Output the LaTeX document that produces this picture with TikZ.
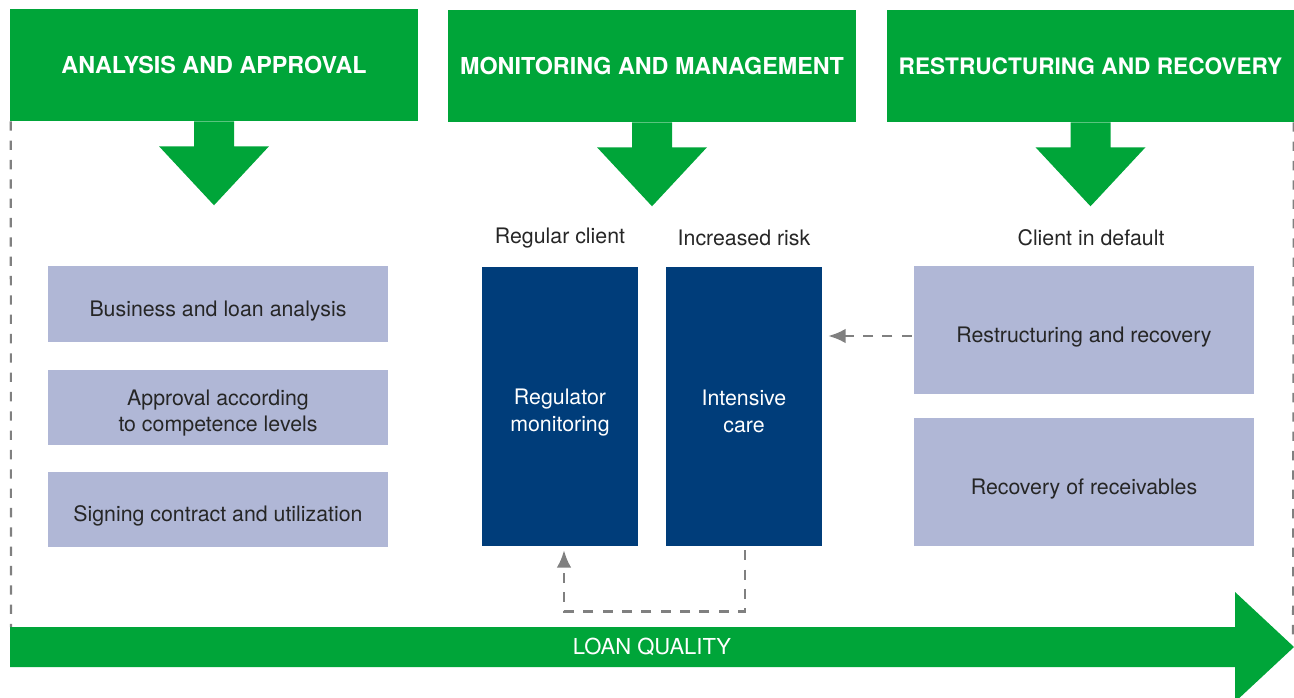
\documentclass[tikz,border=0pt]{standalone}
\usepackage{fontspec}
\setmainfont{TeX Gyre Heros}
\usetikzlibrary{arrows.meta,positioning,calc}
\definecolor{kgreen}{RGB}{0,165,57}
\definecolor{kblue}{RGB}{0,61,122}
\definecolor{klight}{RGB}{176,183,214}
\definecolor{kgray}{RGB}{128,128,128}
\begin{document}
\begin{tikzpicture}[x=0.75pt,y=-0.75pt,font=\fontsize{16}{20}\selectfont,
  head/.style={fill=kgreen,text=white,inner sep=0pt,minimum width=306pt,
               minimum height=84pt,font=\fontsize{17.5}{20}\selectfont\bfseries},
  stepbox/.style={fill=klight,text=black!85,align=center,inner sep=0pt,
                  minimum width=255pt,text height=21.5pt},
  twoline/.style={text height=40.5pt},
  care/.style={fill=kblue,text=white,align=center,inner sep=0pt,twoline,
               minimum width=117pt,minimum height=209.25pt},
  tag/.style={text=black!85},
  back/.style={-{Latex[length=13pt,width=11pt]},kgray,line width=2pt,
               dash pattern=on 7.5pt off 7pt},
  edge/.style={kgray,line width=1.6pt,dash pattern=on 7pt off 7.5pt}]
\useasboundingbox (0,0) rectangle (1294,698);
% ---------------- phases
\node[head] (h1) at (214,65) {ANALYSIS AND APPROVAL};
\node[head] (h2) at (652,66) {MONITORING AND MANAGEMENT};
\node[head,font=\fontsize{17}{20}\selectfont\bfseries] (h3) at (1090.5,66) {RESTRUCTURING AND RECOVERY};
\foreach \h in {h1,h2,h3}
  \fill[kgreen] (\h.south) ++(-20,0) -- ++(0,25) -- ++(-35,0) -- ++(55,59)
    -- ++(55,-59) -- ++(-35,0) -- ++(0,-25) -- cycle;
% ---------------- frame and loan quality
\draw[edge] (h1.south west) ++(1,0) -- (11,627);
\draw[edge] (h3.south east) ++(-1,0) -- (1293,640);
\fill[kgreen] (10,627) -- (1235,627) -- (1235,592) -- (1294,647)
  -- (1235,702) -- (1235,667) -- (10,667) -- cycle;
\node[text=white,font=\fontsize{16.5}{20}\selectfont] (lq) at (652,647) {LOAN QUALITY};
% ---------------- analysis and approval
\node[stepbox,minimum height=56.25pt] (s1) at (218,304) {Business and loan analysis};
\node[stepbox,twoline,minimum height=56.25pt] (s2) at (218,407) {Approval according\\to competence levels};
\node[stepbox,minimum height=56.25pt] (s3) at (218,509) {Signing contract and utilization};
% ---------------- monitoring and management
\node[care] (rm) at (560,406.5) {Regulator\\monitoring};
\node[care,text height=39pt] (ic) at (744,406.5) {Intensive\\care};
\node[tag] (rc) at (560,238.5) {Regular client};
\node[tag] (ir) at (744,238) {Increased risk};
% ---------------- restructuring and recovery
\node[stepbox,minimum height=96pt] (rr) at (1084,330) {Restructuring and recovery};
\node[stepbox,minimum height=96pt] (rv) at (1084,482) {Recovery of receivables};
\node[tag] (cd) at (1091,237.5) {Client in default};
% ---------------- transitions
\draw[back] ($(rr.west)+(-2,6)$) -- ($(ic.east|-rr.west)+(6,6)$);
\draw[back] ($(ic.south)+(1,4)$) -- ++(0,61) -| ($(rm.south)+(4,4)$);
\end{tikzpicture}
\end{document}
